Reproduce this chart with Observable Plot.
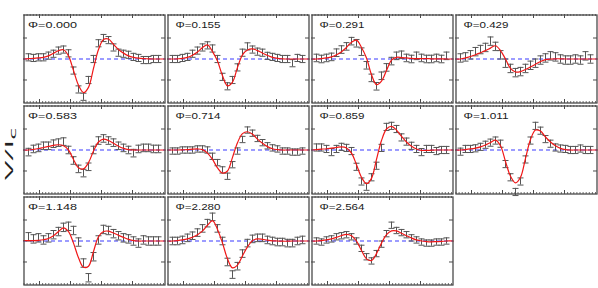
<!DOCTYPE html>
<html><head><meta charset="utf-8">
<script src="https://cdn.jsdelivr.net/npm/d3@7"></script>
<script src="https://cdn.jsdelivr.net/npm/@observablehq/plot@0.6"></script>
<style>
body{margin:0;background:#fff}
#fig{position:relative;width:598px;height:288px;font-family:"Liberation Sans",Arial,sans-serif;background:#fff}
#fig svg{position:absolute;overflow:visible}
</style>
</head><body><div id="fig"></div>
<script>
const phases = ["0.000","0.155","0.291","0.429","0.583","0.714","0.859","1.011","1.148","2.280","2.564"];
const vel = [-55,-50,-45,-40,-35,-30,-25,-20,-15,-10,-5,0,5,10,15,20,25,30,35,40,45,50,55,60,65,70,75];
const velModel = [-60,-55,-50,-45,-40,-35,-30,-25,-20,-15,-10,-5,0,5,10,15,20,25,30,35,40,45,50,55,60,65,70,75,82];
const majorTicks = [-44,-13,18,49];
const yTicks = [-1,1];
const sigma = [0.17,0.17,0.18,0.2,0.18,0.15,0.17,0.17,0.2,0.18,0.15];

const obs0 = [0.08,0.05,0.08,0.08,0.16,0.25,0.4,0.45,0.27,-0.55,-1.45,-1.8,-1.0,0.0,0.75,1.0,0.9,0.55,0.3,0.25,0.2,0.1,0.05,-0.05,-0.05,0,0];
const obs1 = [0,0,0.05,0.1,0.25,0.4,0.55,0.65,0.5,0.0,-0.85,-1.3,-1.0,-0.4,0.3,0.6,0.45,0.35,0.3,0.15,0.1,0.05,0,0,-0.2,0.05,0];
const obs2 = [0.05,0,0.05,0.1,0.3,0.45,0.6,0.85,0.75,0.35,-0.3,-0.9,-1.3,-0.8,-0.4,-0.1,0.15,0.2,0.05,0,0.15,0.05,0,0,0.05,0,0.15];
const obs3 = [0.05,0.1,0.2,0.35,0.45,0.55,0.85,0.6,0.2,-0.2,-0.45,-0.65,-0.6,-0.45,-0.3,-0.2,-0.05,0.05,0.15,0.1,0,-0.05,-0.05,0,-0.05,0.15,0];
const obs4 = [-0.1,0.05,0.1,0.2,0.2,0.3,0.35,0.4,0.0,-0.5,-0.9,-1.1,-0.8,0,0.45,0.55,0.45,0.35,0.2,0.1,0,-0.15,0.05,0.1,0.1,0.05,0.05];
const obs5 = [-0.05,-0.05,0,0,0,0.05,0.05,0,-0.3,-0.6,-0.95,-1.25,-0.7,-0.05,0.5,0.95,0.8,0.55,0.35,0.2,0.1,0.05,-0.05,-0.05,-0.1,-0.1,-0.05];
const obs6 = [0.12,0.12,0.05,-0.1,0.05,0.15,0.1,-0.05,-0.8,-1.5,-1.75,-1.3,-0.75,0.1,1.1,1.15,1.0,0.6,0.4,0.2,0.05,-0.1,0.05,0.05,-0.05,0,0];
const obs7 = [-0.08,0.05,0.05,0.08,0.15,0.25,0.35,0.45,0.3,-0.67,-1.3,-2.0,-1.5,-0.45,0.45,1.15,0.92,0.52,0.3,0.12,0.07,0.05,0,0,0.07,0,0];
const obs8 = [0.2,0.1,0.15,0.05,0.15,0.3,0.45,0.65,0.7,0.5,-0.05,-1.05,-1.75,-0.75,0.05,0.55,0.5,0.35,0.25,0.15,0.1,0,-0.1,0.05,0,0,0];
const obs9 = [0,0,0.05,0.15,0.25,0.4,0.6,0.85,1.15,0.6,0,-1.0,-1.6,-1.2,-0.6,-0.1,0.1,0.15,0.15,0.05,0,-0.05,-0.05,-0.1,-0.1,0,0.05];
const obs10 = [0,-0.05,0.05,0.1,0.2,0.25,0.3,0.2,0,-0.35,-0.75,-0.95,-0.6,-0.15,0.35,0.75,0.5,0.4,0.3,0.15,0.05,-0.05,-0.1,-0.1,-0.05,-0.05,0];

const model0 = [0,0.02,0.03,0.05,0.08,0.15,0.27,0.4,0.44,0.15,-0.55,-1.25,-1.6,-1.35,-0.45,0.45,0.93,0.95,0.7,0.45,0.28,0.15,0.08,0.04,0.02,0.01,0,0,0];
const model1 = [0,0,0.01,0.03,0.08,0.18,0.33,0.55,0.67,0.35,-0.1,-0.8,-1.28,-1.1,-0.4,0.2,0.43,0.48,0.4,0.28,0.17,0.08,0.03,0.01,0,0,0,0,0];
const model2 = [0,0,0.02,0.05,0.1,0.2,0.35,0.55,0.8,0.9,0.55,0.05,-0.75,-1.22,-1.05,-0.55,-0.05,0.08,0.07,0.05,0.03,0.02,0.02,0.02,0.01,0.01,0.01,0,0];
const model3 = [0,0,0.05,0.12,0.2,0.3,0.4,0.52,0.63,0.4,0,-0.45,-0.62,-0.6,-0.5,-0.38,-0.25,-0.12,-0.03,0,0.01,0.01,0,0,0,0,0,0,0];
const model4 = [0,0,0.03,0.07,0.12,0.17,0.22,0.25,0.2,0,-0.45,-0.85,-0.9,-0.6,-0.05,0.38,0.52,0.45,0.32,0.18,0.08,0.02,0,0,0,0,0,0,0];
const model5 = [0,0,0,0.01,0.02,0.04,0.05,0.02,-0.15,-0.45,-0.85,-1.1,-1.0,-0.35,0.35,0.78,0.87,0.75,0.52,0.32,0.16,0.06,0.02,0,0,0,0,0,0];
const model6 = [0,0.02,0.04,0.06,0.09,0.12,0.15,0.1,-0.15,-0.7,-1.3,-1.6,-1.35,-0.45,0.45,1.0,1.13,0.95,0.65,0.38,0.18,0.05,-0.02,-0.02,-0.01,0,0,0,0];
const model7 = [0,0,0.02,0.05,0.09,0.15,0.24,0.36,0.47,0.2,-0.55,-1.25,-1.57,-1.3,-0.4,0.5,0.95,0.9,0.62,0.38,0.2,0.08,0.02,0,0,0,0,0,0];
const model8 = [0.02,0.02,0.02,0.03,0.06,0.12,0.25,0.45,0.63,0.45,-0.1,-0.8,-1.25,-1.2,-0.5,0.2,0.45,0.47,0.38,0.27,0.17,0.08,0.02,0,0,0,0,0,0];
const model9 = [0,0,0.02,0.05,0.1,0.18,0.3,0.48,0.75,0.97,0.55,-0.1,-0.85,-1.28,-1.15,-0.7,-0.28,0.02,0.1,0.08,0.04,0.01,0,-0.01,-0.01,0,0,0,0];
const model10 = [0,0,0.02,0.05,0.1,0.17,0.26,0.32,0.25,0,-0.45,-0.85,-0.93,-0.6,-0.1,0.3,0.48,0.48,0.37,0.25,0.14,0.05,0,-0.03,-0.04,-0.03,-0.02,0,0];

const observed = [obs0,obs1,obs2,obs3,obs4,obs5,obs6,obs7,obs8,obs9,obs10];
const models = [model0,model1,model2,model3,model4,model5,model6,model7,model8,model9,model10];

const W = 142, H = 89;
const fig = document.getElementById("fig");
const minorTicks = d3.range(-44 - 3.1 * 5, 82, 3.1);
const frameColor = "#4a4a4a";

phases.forEach((ph, k) => {
  const col = k % 4, row = Math.floor(k / 4);
  const data = vel.map((v, i) => ({v, y: observed[k][i], e: sigma[k]}));
  const md = velModel.map((v, i) => ({v, y: models[k][i]}));
  const chart = Plot.plot({
    width: W, height: H, margin: 0,
    x: {domain: [-60, 82], axis: null},
    y: {domain: [-2.12, 2.12], axis: null},
    style: {background: "transparent", overflow: "visible"},
    marks: [
      Plot.ruleY([0], {stroke: "#3a3aff", strokeWidth: 1.2, strokeDasharray: "4,3"}),
      Plot.ruleX(data, {x: "v", y1: d => d.y - d.e, y2: d => d.y + d.e, stroke: "#555", strokeWidth: 1}),
      Plot.link(data, {x1: d => d.v - 3, x2: d => d.v + 3, y1: d => d.y - d.e, y2: d => d.y - d.e, stroke: "#555", strokeWidth: 1}),
      Plot.link(data, {x1: d => d.v - 3, x2: d => d.v + 3, y1: d => d.y + d.e, y2: d => d.y + d.e, stroke: "#555", strokeWidth: 1}),
      Plot.line(md, {x: "v", y: "y", curve: "catmull-rom", stroke: "#f01818", strokeWidth: 1.2}),
      Plot.ruleX(minorTicks, {x: d => d, insetTop: H - 2, stroke: frameColor, strokeWidth: 0.8}),
      Plot.ruleX(minorTicks, {x: d => d, insetBottom: H - 2, stroke: frameColor, strokeWidth: 0.8}),
      Plot.ruleX(majorTicks, {x: d => d, insetTop: H - 4, stroke: frameColor}),
      Plot.ruleX(majorTicks, {x: d => d, insetBottom: H - 4, stroke: frameColor}),
      Plot.ruleY(yTicks, {y: d => d, insetRight: W - 4, stroke: frameColor}),
      Plot.ruleY(yTicks, {y: d => d, insetLeft: W - 4, stroke: frameColor}),
      Plot.frame({stroke: frameColor, strokeWidth: 1.3, inset: 0.5}),
      Plot.text(["\u03A6=" + ph], {frameAnchor: "top-left", lineAnchor: "top", dx: col === 0 ? 4.5 : 8, dy: 6.3, fontSize: 9.8, fill: "#1a1a1a", fontFamily: "Liberation Sans, Arial, sans-serif"})
    ]
  });
  chart.style.left = (23 + 144 * col) + "px";
  chart.style.top = (14 + 91 * row) + "px";
  chart.querySelectorAll('g[aria-label="text"] text').forEach(t => {
    t.setAttribute("textLength", col === 0 ? 49 : 45);
    t.setAttribute("lengthAdjust", "spacingAndGlyphs");
  });
  fig.appendChild(chart);
});

// y-axis label
const ns = "http://www.w3.org/2000/svg";
const lab = document.createElementNS(ns, "svg");
lab.setAttribute("width", 22); lab.setAttribute("height", 288);
lab.style.left = "0px"; lab.style.top = "0px";
const t = document.createElementNS(ns, "text");
t.setAttribute("transform", "translate(12.5,154) rotate(-90) scale(1,0.46)");
t.setAttribute("text-anchor", "middle");
t.setAttribute("font-size", "25");
t.setAttribute("font-weight", "400");
t.setAttribute("font-family", "'Open Sans', 'DejaVu Sans', sans-serif");
t.setAttribute("fill", "#222");
t.setAttribute("textLength", "52");
t.setAttribute("lengthAdjust", "spacingAndGlyphs");
t.appendChild(document.createTextNode("V/I"));
const sub = document.createElementNS(ns, "tspan");
sub.setAttribute("font-size", "19");
sub.setAttribute("dy", "8");
sub.textContent = "c";
t.appendChild(sub);
lab.appendChild(t);
fig.appendChild(lab);
</script>
</body></html>
